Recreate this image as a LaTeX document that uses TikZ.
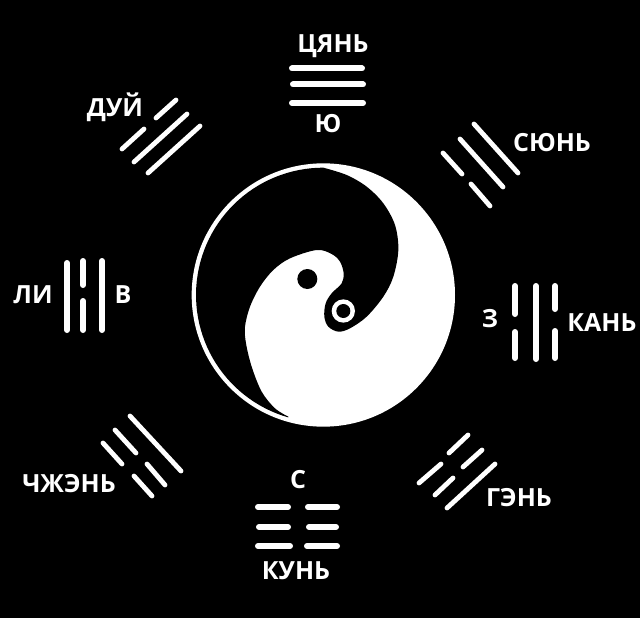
\documentclass[tikz,border=0pt]{standalone}
\usepackage{fontspec}
\setmainfont{Open Sans}
\tikzset{
  lab/.style={text=white,font=\bfseries\fontsize{25}{25}\selectfont,inner sep=0pt,text height=18pt,text depth=0pt,anchor=center},
  yao/.style={draw=white,line width=6pt,line cap=round},
  thinyao/.style={draw=white,line cap=round,line width=4.8pt}
}
\begin{document}
\begin{tikzpicture}[x=1pt,y=-1pt]
\fill[black] (0,0) rectangle (640,618);
\useasboundingbox (0,0) rectangle (640,618);
% taiji
\begin{scope}[shift={(180,150)},x=0.33333pt,y=-0.33333pt]
\fill[white] (430,435) circle[radius=395];
\fill[black] plot[domain=90:254,samples=60] ({430+382*cos(\x)},{435-382*sin(\x)})
  -- plot[smooth,tension=0.55] coordinates {(325,800) (285,775) (245,725) (215,650) (198,580) (195,530) (210,470) (240,410) (280,360) (330,325) (410,300) (455,312) (480,335) (491,370) (485,400) (455,430) (437,460) (433,500) (445,530) (475,545) (510,535) (560,500) (610,440) (640,380) (655,300) (645,225) (610,160) (560,110) (500,75) (430,53)} -- cycle;
\fill[black] (382,387) circle[radius=30];
\fill[white] (490,483) circle[radius=35];
\fill[black] (490,483) circle[radius=21];
\end{scope}
% qian
\draw[yao] (292,68.5) -- (362,68.5);
\draw[yao] (293,84.5) -- (363,84.5);
\draw[yao] (292,103) -- (363,103);
% dui
\draw[thinyao] (156,118) -- (176,100);
\draw[thinyao] (122,149) -- (144,129);
\draw[thinyao] (134,162) -- (187,114);
\draw[thinyao] (148,173) -- (200,126);
% xun
\draw[thinyao] (474,124) -- (518,173);
\draw[thinyao] (460,139) -- (503,187);
\draw[thinyao] (443,153) -- (462,174);
\draw[thinyao] (471,184) -- (490,206);
% kan
\draw[yao] (515,286) -- (515,314);
\draw[yao] (515,332) -- (515,358);
\draw[yao] (536,286) -- (536,359);
\draw[yao] (555,286) -- (555,309);
\draw[yao] (555,331) -- (555,358);
% gen
\draw[thinyao] (468,435) -- (449,453);
\draw[thinyao] (441,464) -- (419,483);
\draw[thinyao] (482,450) -- (463,467);
\draw[thinyao] (453,478) -- (435,495);
\draw[thinyao] (495,464) -- (447,508);
% kun
\draw[yao] (258,507) -- (288,507);
\draw[yao] (308,507) -- (337,507);
\draw[yao] (259,527) -- (288,527);
\draw[yao] (309,527) -- (336,527);
\draw[yao] (258,546) -- (290,546);
\draw[yao] (307,546) -- (337,546);
% zhen
\draw[thinyao] (130,416) -- (181,471);
\draw[thinyao] (115,430) -- (136,453);
\draw[thinyao] (147,464) -- (165,485);
\draw[thinyao] (103,443) -- (122,464);
\draw[thinyao] (134,476) -- (152,496);
% li
\draw[yao] (67,263) -- (67,330);
\draw[yao] (83,261) -- (83,285);
\draw[yao] (83,301) -- (83,330);
\draw[yao] (102,261) -- (102,330);
% labels
\node[lab] (qian) at (333,44) {ЦЯНЬ};
\node[lab] (yu) at (328,123) {Ю};
\node[lab] (dui) at (115,108) {ДУЙ};
\node[lab] (xunl) at (552,142) {СЮНЬ};
\node[lab] (lil) at (33,294) {ЛИ};
\node[lab] (vl) at (123,294) {В};
\node[lab] (zl) at (490,318) {З};
\node[lab] (kanl) at (602,322) {КАНЬ};
\node[lab] (genl) at (519,497) {ГЭНЬ};
\node[lab] (sl) at (298,479) {С};
\node[lab] (kunl) at (296,570) {КУНЬ};
\node[lab] (zhenl) at (69,483) {ЧЖЭНЬ};
\end{tikzpicture}
\end{document}
